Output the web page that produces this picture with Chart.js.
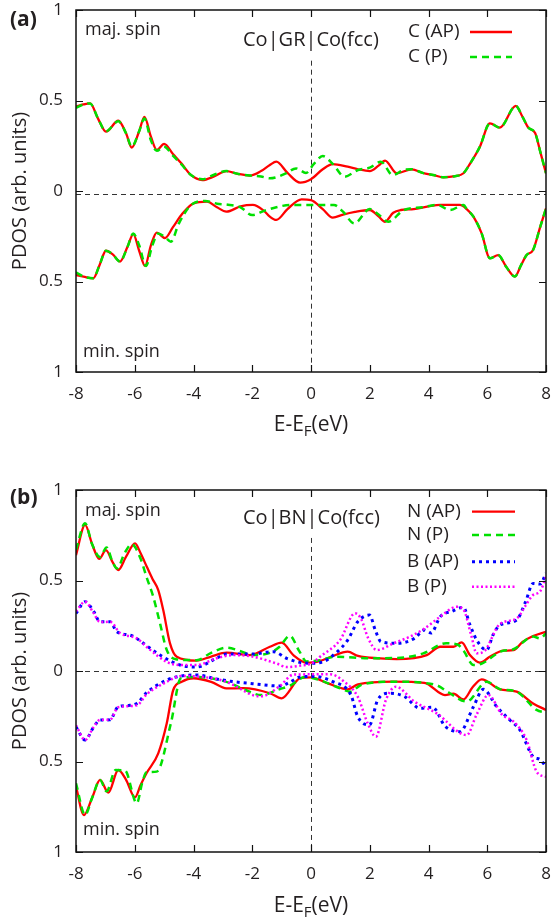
<!DOCTYPE html>
<html><head><meta charset="utf-8">
<script src="https://cdn.jsdelivr.net/npm/chart.js@4.4.1/dist/chart.umd.min.js"></script>
<style>
html,body{margin:0;padding:0;background:#fff;}
body{width:554px;height:917px;position:relative;overflow:hidden;}
.pan{position:absolute;left:0;width:554px;}
</style></head><body>
<div class="pan" style="top:0;height:440px"><canvas id="ca"></canvas></div>
<div class="pan" style="top:470px;height:447px"><canvas id="cb"></canvas></div>
<script>
// ---- axis ticks ----
const xTicks = [-8, -6, -4, -2, 0, 2, 4, 6, 8];
const yTicks = [-1, -0.5, 0, 0.5, 1];

// ---- panel (a): Co|GR|Co(fcc), [E - EF (eV), PDOS] ----
const aMajAP = [[-8,0.466],[-7.75,0.478],[-7.52,0.484],[-7.25,0.40],[-6.98,0.328],[-6.56,0.388],[-6.3,0.32],[-6.10,0.24],[-5.85,0.33],[-5.67,0.41],[-5.45,0.30],[-5.25,0.227],[-5.0,0.26],[-4.7,0.205],[-4.4,0.15],[-4.1,0.09],[-3.7,0.06],[-3.3,0.08],[-2.88,0.11],[-2.5,0.095],[-2.08,0.085],[-1.7,0.11],[-1.4,0.144],[-1.18,0.162],[-0.8,0.10],[-0.37,0.046],[0,0.065],[0.4,0.12],[0.74,0.149],[1.25,0.134],[1.6,0.12],[2.0,0.11],[2.3,0.14],[2.52,0.168],[2.92,0.098],[3.43,0.12],[3.8,0.10],[4.17,0.088],[4.51,0.076],[4.9,0.082],[5.19,0.098],[5.41,0.15],[5.75,0.245],[6.09,0.374],[6.43,0.35],[6.97,0.47],[7.2,0.41],[7.40,0.35],[7.63,0.32],[7.8,0.22],[8,0.098]];
const aMajP = [[-8,0.46],[-7.75,0.478],[-7.52,0.484],[-7.25,0.40],[-6.98,0.33],[-6.56,0.385],[-6.3,0.32],[-6.10,0.245],[-5.85,0.33],[-5.67,0.40],[-5.45,0.28],[-5.25,0.222],[-5.0,0.245],[-4.7,0.195],[-4.4,0.145],[-4.1,0.09],[-3.7,0.065],[-3.3,0.09],[-2.88,0.11],[-2.5,0.095],[-2.08,0.085],[-1.7,0.08],[-1.4,0.07],[-1.1,0.08],[-0.85,0.098],[-0.51,0.125],[-0.17,0.10],[0.1,0.15],[0.40,0.193],[0.74,0.15],[1.14,0.079],[1.6,0.116],[2.0,0.129],[2.38,0.162],[2.78,0.088],[3.15,0.116],[3.43,0.12],[3.8,0.10],[4.17,0.088],[4.51,0.076],[4.9,0.082],[5.19,0.098],[5.41,0.15],[5.75,0.245],[6.09,0.374],[6.43,0.35],[6.97,0.47],[7.2,0.41],[7.40,0.35],[7.63,0.32],[7.8,0.22],[8,0.098]];
const aMinAP = [[-8,-0.464],[-7.7,-0.475],[-7.41,-0.482],[-7.2,-0.41],[-6.98,-0.33],[-6.75,-0.35],[-6.5,-0.39],[-6.25,-0.31],[-6.05,-0.238],[-5.85,-0.33],[-5.65,-0.414],[-5.45,-0.30],[-5.25,-0.23],[-4.97,-0.26],[-4.7,-0.20],[-4.4,-0.13],[-4.0,-0.068],[-3.54,-0.059],[-3.2,-0.09],[-2.88,-0.114],[-2.4,-0.085],[-1.98,-0.077],[-1.6,-0.11],[-1.4,-0.142],[-1.18,-0.16],[-0.8,-0.10],[-0.32,-0.046],[0,-0.05],[0.4,-0.10],[0.74,-0.147],[1.09,-0.13],[1.5,-0.115],[2.0,-0.105],[2.3,-0.14],[2.52,-0.17],[2.8,-0.12],[3.06,-0.105],[3.5,-0.10],[4.0,-0.085],[4.4,-0.077],[5.07,-0.077],[5.3,-0.10],[5.53,-0.142],[5.81,-0.234],[6.09,-0.372],[6.37,-0.354],[6.65,-0.42],[6.94,-0.473],[7.15,-0.41],[7.34,-0.354],[7.56,-0.326],[7.8,-0.20],[8,-0.096]];
const aMinP = [[-8,-0.45],[-7.7,-0.475],[-7.41,-0.482],[-7.2,-0.41],[-6.98,-0.33],[-6.75,-0.35],[-6.5,-0.39],[-6.25,-0.31],[-6.05,-0.235],[-5.85,-0.30],[-5.62,-0.414],[-5.4,-0.30],[-5.2,-0.235],[-4.97,-0.255],[-4.77,-0.28],[-4.5,-0.18],[-4.1,-0.08],[-3.6,-0.055],[-3.2,-0.07],[-2.88,-0.075],[-2.4,-0.09],[-2.0,-0.133],[-1.6,-0.11],[-1.18,-0.09],[-0.71,-0.077],[0,-0.077],[0.78,-0.077],[1.09,-0.114],[1.47,-0.179],[2.0,-0.10],[2.3,-0.13],[2.63,-0.17],[3.15,-0.106],[3.8,-0.09],[4.3,-0.077],[4.73,-0.105],[5.2,-0.077],[5.3,-0.10],[5.53,-0.142],[5.81,-0.234],[6.09,-0.372],[6.37,-0.354],[6.65,-0.42],[6.94,-0.473],[7.15,-0.41],[7.34,-0.354],[7.56,-0.326],[7.8,-0.20],[8,-0.096]];

// ---- panel (b): Co|BN|Co(fcc) ----
const bMajNAP = [[-8,0.64],[-7.69,0.807],[-7.45,0.70],[-7.21,0.62],[-6.98,0.668],[-6.75,0.60],[-6.56,0.558],[-6.3,0.63],[-5.99,0.705],[-5.8,0.65],[-5.59,0.576],[-5.40,0.51],[-5.20,0.447],[-5.03,0.337],[-4.80,0.153],[-4.57,0.079],[-3.89,0.057],[-3.4,0.08],[-2.87,0.101],[-2.08,0.088],[-1.40,0.134],[-1.0,0.157],[-0.60,0.088],[-0.15,0.046],[0.2,0.05],[0.7,0.08],[1.25,0.107],[1.6,0.083],[2.35,0.07],[2.92,0.066],[3.94,0.088],[4.4,0.134],[4.85,0.134],[5.13,0.158],[5.41,0.088],[5.75,0.046],[6.1,0.08],[6.55,0.112],[6.89,0.115],[7.2,0.16],[7.56,0.193],[8,0.217]];
const bMajNP = [[-8,0.67],[-7.69,0.816],[-7.45,0.70],[-7.18,0.63],[-6.96,0.683],[-6.75,0.60],[-6.6,0.567],[-6.35,0.65],[-6.1,0.70],[-5.8,0.62],[-5.6,0.52],[-5.37,0.41],[-5.15,0.27],[-4.91,0.116],[-4.6,0.065],[-3.89,0.06],[-3.4,0.10],[-2.88,0.129],[-2.4,0.11],[-1.98,0.088],[-1.4,0.10],[-1.07,0.134],[-0.72,0.195],[-0.4,0.11],[-0.15,0.053],[0.3,0.06],[0.87,0.079],[2.0,0.07],[2.92,0.072],[3.8,0.096],[4.6,0.153],[5.0,0.145],[5.2,0.11],[5.53,0.033],[5.8,0.04],[6.5,0.11],[6.89,0.12],[7.56,0.19],[7.8,0.18],[8,0.208]];
const bMajBAP = [[-8,0.318],[-7.69,0.383],[-7.4,0.33],[-7.18,0.272],[-6.84,0.272],[-6.61,0.217],[-6.1,0.195],[-5.71,0.153],[-5.14,0.088],[-4.46,0.033],[-3.9,0.022],[-3.22,0.07],[-2.88,0.094],[-2.0,0.094],[-1.28,0.107],[-0.83,0.07],[-0.34,0.046],[0.0,0.043],[0.4,0.05],[0.85,0.10],[1.25,0.171],[1.59,0.272],[1.99,0.309],[2.2,0.22],[2.38,0.162],[2.95,0.153],[3.52,0.18],[3.86,0.226],[4.09,0.21],[4.4,0.30],[4.8,0.33],[5.19,0.352],[5.4,0.26],[5.64,0.171],[5.98,0.116],[6.2,0.20],[6.43,0.254],[7.0,0.282],[7.3,0.38],[7.56,0.484],[7.8,0.48],[8,0.54]];
const bMajBP = [[-8,0.33],[-7.69,0.383],[-7.4,0.32],[-7.18,0.27],[-6.84,0.272],[-6.5,0.21],[-5.93,0.18],[-5.5,0.12],[-4.91,0.05],[-4.46,0.033],[-3.9,0.033],[-3.22,0.07],[-2.64,0.088],[-2.0,0.08],[-1.18,0.042],[-0.83,0.022],[-0.34,0.03],[0.0,0.04],[0.31,0.079],[0.99,0.171],[1.5,0.319],[1.7,0.29],[1.95,0.18],[2.24,0.116],[2.81,0.153],[3.37,0.19],[3.86,0.234],[4.4,0.30],[4.96,0.355],[5.19,0.34],[5.45,0.20],[5.64,0.098],[5.9,0.11],[6.43,0.26],[7.0,0.29],[7.3,0.36],[7.56,0.42],[7.8,0.44],[8,0.52]];
const bMinNAP = [[-8,-0.639],[-7.73,-0.796],[-7.45,-0.70],[-7.18,-0.602],[-6.90,-0.672],[-6.56,-0.547],[-6.3,-0.60],[-5.99,-0.698],[-5.8,-0.63],[-5.6,-0.565],[-5.2,-0.455],[-4.91,-0.289],[-4.69,-0.105],[-4.4,-0.06],[-4.0,-0.04],[-3.4,-0.06],[-2.88,-0.096],[-2.3,-0.095],[-1.4,-0.123],[-1.0,-0.151],[-0.37,-0.04],[0,-0.035],[0.6,-0.07],[1.25,-0.101],[1.6,-0.074],[2.8,-0.059],[3.86,-0.066],[4.56,-0.133],[4.85,-0.125],[5.19,-0.157],[5.5,-0.09],[5.81,-0.046],[6.43,-0.101],[7.0,-0.114],[7.56,-0.179],[8,-0.215]];
const bMinNP = [[-8,-0.62],[-7.69,-0.796],[-7.45,-0.70],[-7.18,-0.602],[-6.96,-0.665],[-6.65,-0.547],[-6.33,-0.55],[-5.93,-0.731],[-5.75,-0.62],[-5.6,-0.56],[-5.25,-0.556],[-4.77,-0.289],[-4.43,-0.04],[-3.9,-0.033],[-2.88,-0.06],[-2.3,-0.10],[-1.7,-0.133],[-1.06,-0.10],[-0.7,-0.08],[-0.2,-0.033],[0.3,-0.05],[0.9,-0.09],[1.36,-0.114],[1.7,-0.077],[2.8,-0.059],[3.86,-0.066],[4.3,-0.08],[4.7,-0.12],[5.30,-0.169],[5.98,-0.059],[6.43,-0.10],[7.0,-0.114],[7.68,-0.215],[8,-0.23]];
const bMinBAP = [[-8,-0.308],[-7.69,-0.381],[-7.4,-0.31],[-7.18,-0.271],[-6.85,-0.27],[-6.56,-0.197],[-6.2,-0.19],[-5.93,-0.179],[-5.6,-0.12],[-4.91,-0.05],[-4.43,-0.028],[-3.9,-0.022],[-3.22,-0.044],[-2.6,-0.06],[-1.98,-0.07],[-1.06,-0.083],[-0.7,-0.06],[-0.37,-0.033],[0.1,-0.03],[0.74,-0.059],[1.36,-0.133],[1.59,-0.252],[1.99,-0.298],[2.27,-0.16],[2.66,-0.123],[3.17,-0.14],[3.71,-0.206],[4.14,-0.2],[4.56,-0.304],[5.07,-0.335],[5.53,-0.197],[5.87,-0.101],[6.32,-0.197],[6.77,-0.271],[7.11,-0.326],[7.56,-0.473],[7.8,-0.49],[8,-0.529]];
const bMinBP = [[-8,-0.30],[-7.69,-0.381],[-7.4,-0.31],[-7.18,-0.27],[-6.85,-0.27],[-6.56,-0.20],[-5.93,-0.19],[-5.6,-0.13],[-4.91,-0.06],[-4.43,-0.028],[-3.9,-0.03],[-2.88,-0.06],[-1.98,-0.133],[-1.7,-0.14],[-1.06,-0.083],[-0.6,-0.02],[0.65,-0.018],[1.1,-0.055],[1.59,-0.142],[1.93,-0.289],[2.21,-0.363],[2.55,-0.16],[2.89,-0.087],[3.52,-0.169],[4.28,-0.234],[5.30,-0.354],[5.64,-0.24],[6.04,-0.133],[6.5,-0.24],[6.9,-0.28],[7.34,-0.381],[7.68,-0.556],[8,-0.585]];

// ---- labels ----
const legendA = ['C (AP)', 'C (P)'];
const legendB = ['N (AP)', 'N (P)', 'B (AP)', 'B (P)'];

const FONT = '"Open Sans", "DejaVu Sans", sans-serif';
const TXT = '#231f20';
const STY = {
  red:     {color: '#ff0000', width: 2.3, dash: []},
  green:   {color: '#00e000', width: 2.5, dash: [7, 5]},
  blue:    {color: '#0000ff', width: 3,   dash: [3, 4]},
  magenta: {color: '#ff00ff', width: 2.5, dash: [2, 2.5]}
};

function ds(pairs, s, order) {
  return {
    data: pairs.map(p => ({x: p[0], y: p[1]})),
    borderColor: s.color, borderWidth: s.width, borderDash: s.dash,
    borderCapStyle: 'butt', pointRadius: 0, fill: false,
    cubicInterpolationMode: 'monotone', order: order
  };
}

function makePlugin(cfg) {
  return {
    id: 'deco',
    beforeDatasetsDraw(chart) {
      const {ctx, chartArea: a, scales: {x, y}} = chart;
      ctx.save();
      ctx.strokeStyle = '#333'; ctx.lineWidth = 1; ctx.setLineDash([5, 4]);
      const y0 = Math.round(y.getPixelForValue(cfg.zeroY)) + 0.5;
      ctx.beginPath(); ctx.moveTo(a.left, y0); ctx.lineTo(a.right, y0); ctx.stroke();
      const x0 = Math.round(x.getPixelForValue(0)) + 0.5;
      ctx.beginPath(); ctx.moveTo(x0, y.getPixelForValue(cfg.vTop)); ctx.lineTo(x0, a.bottom); ctx.stroke();
      ctx.restore();
    },
    afterDraw(chart) {
      const {ctx, chartArea: a, scales: {x, y}} = chart;
      ctx.save();
      // frame
      ctx.strokeStyle = '#111'; ctx.lineWidth = 1.5; ctx.setLineDash([]);
      ctx.strokeRect(a.left, a.top, a.right - a.left, a.bottom - a.top);
      ctx.lineWidth = 1.2;
      const tl = 7;
      ctx.beginPath();
      xTicks.forEach(v => {
        const px = Math.round(x.getPixelForValue(v)) + 0.5;
        ctx.moveTo(px, a.top); ctx.lineTo(px, a.top + tl);
        ctx.moveTo(px, a.bottom); ctx.lineTo(px, a.bottom - tl);
      });
      yTicks.forEach(v => {
        const py = Math.round(y.getPixelForValue(v)) + 0.5;
        ctx.moveTo(a.left, py); ctx.lineTo(a.left + tl, py);
        ctx.moveTo(a.right, py); ctx.lineTo(a.right - tl, py);
      });
      ctx.stroke();
      // texts
      ctx.fillStyle = TXT; ctx.textBaseline = 'middle'; ctx.textAlign = 'left';
      ctx.font = 'bold 21px ' + FONT;
      ctx.fillText(cfg.letter, 10, cfg.letterY);
      ctx.font = '18px ' + FONT;
      ctx.fillText('maj. spin', 85, cfg.majY);
      ctx.fillText('min. spin', 83, cfg.minY);
      ctx.font = '20px ' + FONT;
      ctx.fillText(cfg.system, 243, cfg.sysY);
      // legend
      ctx.font = '19px ' + FONT;
      cfg.legend.forEach((t, i) => {
        const ly = cfg.legY[i];
        ctx.fillStyle = TXT;
        ctx.fillText(t, cfg.legX, ly);
        const s = cfg.legSty[i];
        ctx.strokeStyle = s.color; ctx.lineWidth = s.width; ctx.setLineDash(s.dash); ctx.lineCap = 'butt';
        ctx.beginPath(); ctx.moveTo(cfg.legL1, ly); ctx.lineTo(cfg.legL2, ly); ctx.stroke();
      });
      ctx.setLineDash([]);
      // x-axis title with subscript
      const cx = (a.left + a.right) / 2, ty = a.bottom + cfg.xTitleOff;
      const big = '21px ' + FONT, small = '15px ' + FONT;
      ctx.font = big; const w1 = ctx.measureText('E-E').width; const w3 = ctx.measureText('(eV)').width;
      ctx.font = small; const w2 = ctx.measureText('F').width;
      let sx = cx - (w1 + w2 + w3) / 2;
      ctx.fillStyle = TXT;
      ctx.font = big; ctx.fillText('E-E', sx, ty); sx += w1;
      ctx.font = small; ctx.fillText('F', sx, ty + 7); sx += w2;
      ctx.font = big; ctx.fillText('(eV)', sx, ty);
      ctx.restore();
    }
  };
}

function makeChart(id, datasets, cfg) {
  return new Chart(document.getElementById(id), {
    type: 'line',
    data: {datasets},
    options: {
      responsive: true, maintainAspectRatio: false, animation: false,
      layout: {padding: {top: cfg.padTop, right: 8, left: 0, bottom: 0}},
      plugins: {legend: {display: false}, tooltip: {enabled: false}},
      scales: {
        x: {
          type: 'linear', min: -8, max: 8,
          afterBuildTicks(s) { s.ticks = xTicks.map(v => ({value: v})); },
          ticks: {padding: 12, maxRotation: 0, autoSkip: false, color: TXT,
                  font: {family: FONT, size: 17, lineHeight: 1.2}},
          grid: {display: false, drawTicks: false}, border: {display: false},
          afterFit(s) { s.height = cfg.xH; s.paddingLeft = 0; s.paddingRight = 0; s.paddingTop = 0; s.paddingBottom = 0; }
        },
        y: {
          type: 'linear', min: -1, max: 1,
          afterBuildTicks(s) { s.ticks = yTicks.map(v => ({value: v})); },
          ticks: {padding: 13, color: TXT, font: {family: FONT, size: 17, lineHeight: 1},
                  callback: v => String(Math.abs(v))},
          grid: {display: false, drawTicks: false}, border: {display: false},
          title: {display: true, text: 'PDOS (arb. units)', color: TXT,
                  font: {family: FONT, size: 20, lineHeight: 1.2}, padding: {top: 8, bottom: 0}},
          afterFit(s) { s.width = 76; s.paddingTop = 0; s.paddingBottom = 0; s.paddingLeft = 0; s.paddingRight = 0; }
        }
      }
    },
    plugins: [makePlugin(cfg)]
  });
}

makeChart('ca', [
  ds(aMajAP, STY.red, 4), ds(aMinAP, STY.red, 4),
  ds(aMajP, STY.green, 3), ds(aMinP, STY.green, 3)
], {
  padTop: 10, xH: 68, zeroY: -0.015, vTop: 0.72,
  letter: '(a)', letterY: 20, majY: 30, minY: 352, system: 'Co|GR|Co(fcc)', sysY: 40,
  legend: legendA, legSty: [STY.red, STY.green], legX: 408, legY: [32, 57], legL1: 470, legL2: 512,
  xTitleOff: 53
});

makeChart('cb', [
  ds(bMajNAP, STY.red, 4), ds(bMinNAP, STY.red, 4),
  ds(bMajNP, STY.green, 3), ds(bMinNP, STY.green, 3),
  ds(bMajBAP, STY.blue, 2), ds(bMinBAP, STY.blue, 2),
  ds(bMajBP, STY.magenta, 1), ds(bMinBP, STY.magenta, 1)
], {
  padTop: 20, xH: 65, zeroY: 0, vTop: 0.735,
  letter: '(b)', letterY: 28, majY: 41, minY: 360, system: 'Co|BN|Co(fcc)', sysY: 48,
  legend: legendB, legSty: [STY.red, STY.green, STY.blue, STY.magenta], legX: 407,
  legY: [41.7, 65, 91.7, 116.7], legL1: 472, legL2: 515,
  xTitleOff: 54
});
</script>
</body></html>
